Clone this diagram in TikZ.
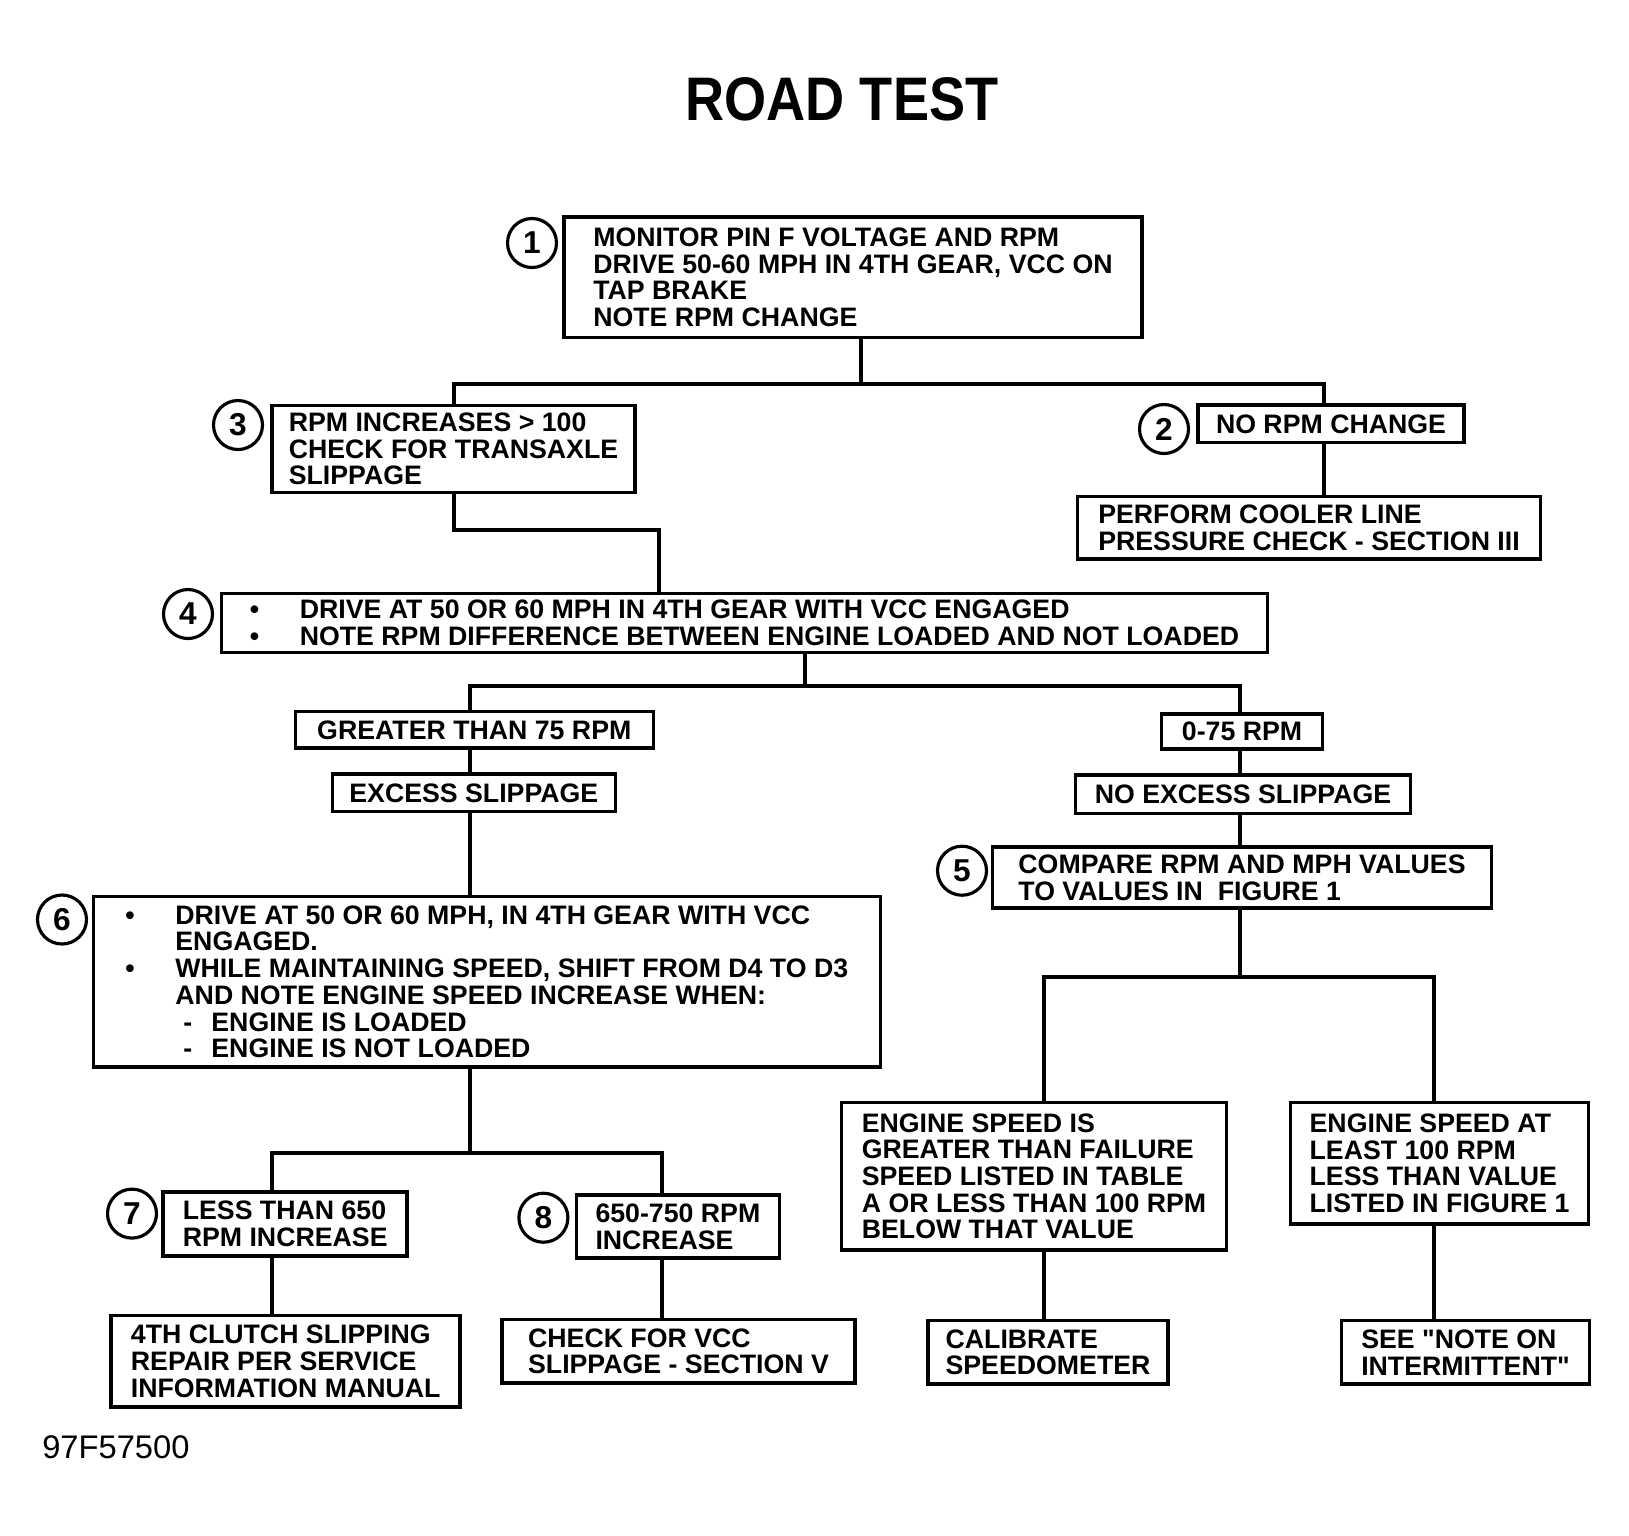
\documentclass[tikz,border=0pt]{standalone}
\usepackage{fontspec}
\setmainfont{Liberation Sans}
\tikzset{
  box/.style={draw,line width=1pt,inner xsep=0.14cm,inner ysep=0pt,align=left,
              font=\bfseries\fontsize{7.6}{7.6}\selectfont},
  wh/.style 2 args={minimum width=#1cm,minimum height=#2cm},
  num/.style={circle,draw,line width=0.9pt,minimum size=0.49cm,inner sep=0pt,
              font=\bfseries\fontsize{9}{9}\selectfont},
  link/.style={line width=1.1pt}
}
\newcommand{\bul}{\makebox[0.5cm][l]{\textbullet}}
\newcommand{\dsh}{\hspace*{0.58cm}\makebox[0.28cm][l]{-}}

\begin{document}
\begin{tikzpicture}
  \useasboundingbox (0,0) rectangle (16.29,-15.35);

  \node[font=\bfseries\fontsize{17.5}{20}\selectfont] (title) at (8.42,-0.99)
       {\scalebox{0.88}[1]{ROAD TEST}};

  % top part
  \node[box,wh={5.78}{1.205}] (b1) at (8.53,-2.774)
       {MONITOR PIN F VOLTAGE AND RPM\\ DRIVE 50-60 MPH IN 4TH GEAR, VCC ON\\
        TAP BRAKE\\ NOTE RPM CHANGE};
  \node[box,wh={3.63}{0.873}] (b3) at (4.535,-4.489)
       {RPM INCREASES > 100\\ CHECK FOR TRANSAXLE\\ SLIPPAGE};
  \node[box,wh={2.66}{0.374}] (b2) at (13.31,-4.239) {NO RPM CHANGE};
  \node[box,wh={4.63}{0.624}] (perf) at (13.09,-5.278)
       {PERFORM COOLER LINE\\ PRESSURE CHECK - SECTION III};
  \node[box,wh={10.46}{0.592}] (b4) at (7.445,-6.229)
       {\bul DRIVE AT 50 OR 60 MPH IN 4TH GEAR WITH VCC ENGAGED\\
        \bul NOTE RPM DIFFERENCE BETWEEN ENGINE LOADED AND NOT LOADED};

  % middle part
  \node[box,wh={3.58}{0.364}] (gt) at (4.743,-7.299) {GREATER THAN 75 RPM};
  \node[box,wh={1.61}{0.353}] (lo) at (12.42,-7.315) {0-75 RPM};
  \node[box,wh={2.83}{0.375}] (ex) at (4.738,-7.928) {EXCESS SLIPPAGE};
  \node[box,wh={3.35}{0.384}] (nx) at (12.43,-7.943) {NO EXCESS SLIPPAGE};
  \node[box,wh={4.99}{0.613}] (b5) at (12.42,-8.775)
       {COMPARE RPM AND MPH VALUES\\ TO VALUES IN \ FIGURE 1};
  \node[box,wh={7.87}{1.703}] (b6) at (4.868,-9.818)
       {\bul DRIVE AT 50 OR 60 MPH, IN 4TH GEAR WITH VCC\\
        \hspace*{0.5cm}ENGAGED.\\
        \bul WHILE MAINTAINING SPEED, SHIFT FROM D4 TO D3\\
        \hspace*{0.5cm}AND NOTE ENGINE SPEED INCREASE WHEN:\\
        \dsh ENGINE IS LOADED\\
        \dsh ENGINE IS NOT LOADED};

  % bottom part
  \node[box,wh={3.85}{1.475}] (es) at (10.34,-11.762)
       {ENGINE SPEED IS\\ GREATER THAN FAILURE\\ SPEED LISTED IN TABLE\\
        A OR LESS THAN 100 RPM\\ BELOW THAT VALUE};
  \node[box,wh={2.98}{1.215}] (ea) at (14.395,-11.632)
       {ENGINE SPEED AT\\ LEAST 100 RPM\\ LESS THAN VALUE\\ LISTED IN FIGURE 1};
  \node[box,wh={2.40}{0.634}] (cal) at (10.48,-13.523) {CALIBRATE\\ SPEEDOMETER};
  \node[box,wh={2.48}{0.634}] (see) at (14.655,-13.523)
       {SEE \textquotedbl NOTE ON\\ INTERMITTENT\textquotedbl};
  \node[box,wh={2.44}{0.644}] (b7) at (2.852,-12.24) {LESS THAN 650\\ RPM INCREASE};
  \node[box,wh={2.03}{0.633}] (b8) at (6.779,-12.265) {650-750 RPM\\ INCREASE};
  \node[box,wh={3.49}{0.914}] (clu) at (2.857,-13.611)
       {4TH CLUTCH SLIPPING\\ REPAIR PER SERVICE\\ INFORMATION MANUAL};
  \node[box,wh={3.53}{0.634}] (vcc) at (6.785,-13.512)
       {CHECK FOR VCC\\ SLIPPAGE - SECTION V};

  % step numbers
  \node[num] (n1) at (5.32,-2.43) {1};
  \node[num] (n2) at (11.64,-4.29) {2};
  \node[num] (n3) at (2.38,-4.25) {3};
  \node[num] (n4) at (1.88,-6.14) {4};
  \node[num] (n5) at (9.62,-8.707) {5};
  \node[num] (n6) at (0.62,-9.195) {6};
  \node[num] (n7) at (1.32,-12.136) {7};
  \node[num] (n8) at (5.434,-12.177) {8};

  % connectors
  \coordinate (j1) at (8.61,-3.84);
  \coordinate (c3) at (4.54,-3.84);
  \coordinate (c2) at (13.24,-3.84);
  \coordinate (j3) at (6.59,-5.30);
  \coordinate (j4) at (8.05,-6.86);
  \coordinate (c4L) at (4.70,-6.86);
  \coordinate (c4R) at (12.40,-6.86);
  \coordinate (j5) at (12.40,-9.77);
  \coordinate (c5L) at (10.44,-9.77);
  \coordinate (c5R) at (14.34,-9.77);
  \coordinate (j6) at (4.70,-11.53);
  \coordinate (c7) at (2.72,-11.53);
  \coordinate (c8) at (6.62,-11.53);

  \draw[link] (b1.south -| j1) -- (j1);
  \draw[link] (b3.north -| c3) -- (c3) -- (c2) -- (b2.north -| c2);
  \draw[link] (b2.south -| c2) -- (perf.north -| c2);
  \draw[link] (b3.south -| c3) |- (j3) -- (b4.north -| j3);
  \draw[link] (b4.south -| j4) -- (j4);
  \draw[link] (gt.north -| c4L) -- (c4L) -- (c4R) -- (lo.north -| c4R);
  \draw[link] (gt.south -| c4L) -- (ex.north -| c4L);
  \draw[link] (ex.south -| c4L) -- (b6.north -| c4L);
  \draw[link] (lo.south -| c4R) -- (nx.north -| c4R);
  \draw[link] (nx.south -| c4R) -- (b5.north -| c4R);
  \draw[link] (b5.south -| j5) -- (j5);
  \draw[link] (es.north -| c5L) -- (c5L) -- (c5R) -- (ea.north -| c5R);
  \draw[link] (es.south -| c5L) -- (cal.north -| c5L);
  \draw[link] (ea.south -| c5R) -- (see.north -| c5R);
  \draw[link] (b6.south -| j6) -- (j6);
  \draw[link] (b7.north -| c7) -- (c7) -- (c8) -- (b8.north -| c8);
  \draw[link] (b7.south -| c7) -- (clu.north -| c7);
  \draw[link] (b8.south -| c8) -- (vcc.north -| c8);

  \node[anchor=west,inner sep=0pt,font=\fontsize{9.3}{11}\selectfont] (code)
       at (0.416,-14.473) {97F57500};
\end{tikzpicture}
\end{document}
